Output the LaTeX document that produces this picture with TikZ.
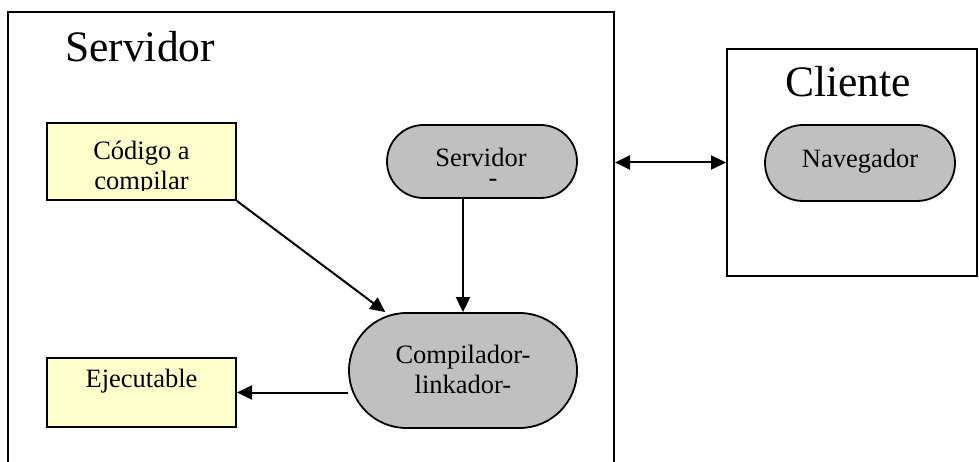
\documentclass[tikz,border=0pt]{standalone}
\usepackage{fontspec}
\setmainfont{Liberation Serif}
\usetikzlibrary{arrows.meta}
\definecolor{notey}{HTML}{FFFFCC}
\definecolor{pillg}{HTML}{C0C0C0}
\begin{document}
\begin{tikzpicture}[x=1pt,y=-1pt,
  frame/.style={draw, line width=2pt, inner sep=0pt},
  title/.style={font=\fontsize{43.5}{48}\selectfont, inner sep=0pt},
  note/.style={draw, fill=notey, line width=2pt, inner sep=0pt},
  pill/.style={draw, fill=pillg, line width=1.8pt, inner sep=0pt},
  lab/.style={font=\fontsize{26.5}{30}\selectfont, align=center, inner sep=0pt},
  arr/.style={-{Triangle[length=15pt,width=14pt]}, line width=2pt},
  arrboth/.style={{Triangle[length=15pt,width=14pt]}-{Triangle[length=15pt,width=14pt]}, line width=2pt}]
\useasboundingbox (0,0) rectangle (979,462);
\clip (0,0) rectangle (979,462);
\fill[white] (0,0) rectangle (979,462);
% containers
\node[frame, minimum width=606pt, minimum height=470pt] (srvbox) at (311,247) {};
\node[title, anchor=base west] (srvtitle) at (65,62) {Servidor};
\node[frame, minimum width=250pt, minimum height=227pt] (clibox) at (852,162.5) {};
\node[title, anchor=base west] (clititle) at (785,97) {Cliente};
% notes
\node[note, minimum width=189pt, minimum height=77pt] (codigo) at (141.5,161.5) {};
\begin{scope}
\clip (47,123) rectangle (236,191);
\node[lab, anchor=base] (codigotxt) at (141.5,190) {Código a\\compilar};
\end{scope}
\node[note, minimum width=189pt, minimum height=69pt] (ejec) at (141.5,392.5) {};
\node[lab, anchor=base] (ejectxt) at (141.5,387) {Ejecutable};
% pills
\node[pill, minimum width=190pt, minimum height=73pt, rounded corners=36.5pt] (srvpill) at (482,161.5) {};
\node[lab, anchor=base] (srvtxt) at (481,187) {Servidor\\[-10pt]\hspace*{24pt}-};
\node[pill, minimum width=228pt, minimum height=115pt, rounded corners=57.5pt] (comp) at (463,370.5) {};
\node[lab, anchor=base] (comptxt) at (463,393) {Compilador-\\linkador-};
\node[pill, minimum width=190pt, minimum height=76pt, rounded corners=38pt] (nav) at (860,163) {};
\node[lab, anchor=base] (navtxt) at (860,168) {Navegador};
% connectors
\draw[arr] (codigo.south east) -- (comp);
\draw[arr] (comp.north |- srvpill.south) -- (comp.north);
\draw[arr] (comp.west |- ejec.east) -- (ejec.east);
\draw[arrboth] (srvbox.east |- clibox.west) -- (clibox.west);
\end{tikzpicture}
\end{document}
